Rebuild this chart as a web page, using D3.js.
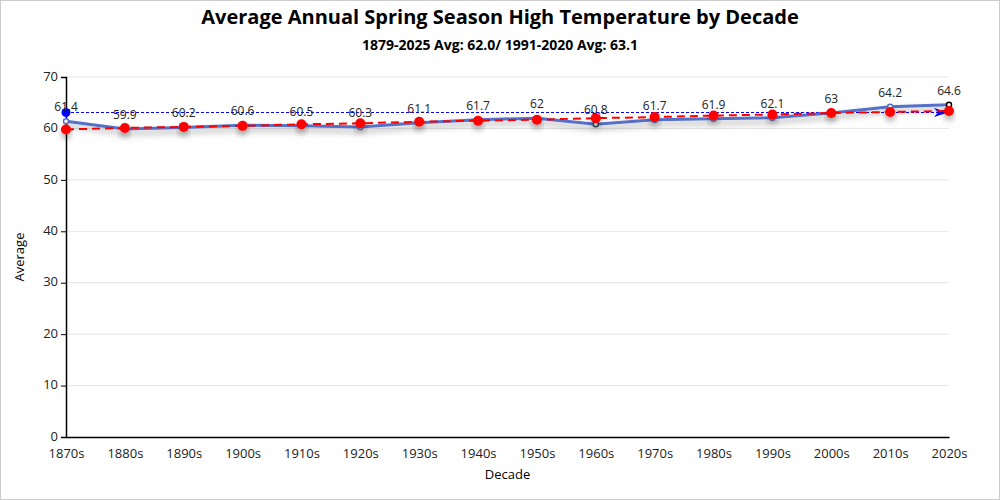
<!DOCTYPE html>
<html>
<head>
<meta charset="utf-8">
<script src="https://cdn.jsdelivr.net/npm/d3@7"></script>
<style>
  body { margin: 0; background: #fff; }
  svg { font-family: "Open Sans", "Noto Sans", sans-serif; }
</style>
</head>
<body>
<script>
const decades = ['1870s','1880s','1890s','1900s','1910s','1920s','1930s','1940s',
    '1950s','1960s','1970s','1980s','1990s','2000s','2010s','2020s']
const averages = [61.4, 59.9, 60.2, 60.6, 60.5, 60.3, 61.1, 61.7,
    62, 60.8, 61.7, 61.9, 62.1, 63, 64.2, 64.6]
const trend = [59.8, 60.1, 60.3, 60.5, 60.8, 61.0, 61.3, 61.5,
    61.7, 62.0, 62.2, 62.5, 62.7, 63.0, 63.2, 63.4]
const normal = 63.1
const yTicks = [0, 10, 20, 30, 40, 50, 60, 70]

const WIDTH = 1000
const HEIGHT = 500
const margin = { top: 77, bottom: 63, left: 66, right: 51 }

const svg = d3.select('body').append('svg')
    .attr('width', WIDTH)
    .attr('height', HEIGHT);

// drop shadow like the original
const defs = svg.append('defs')
const f = defs.append('filter').attr('id', 'shadow')
    .attr('x', '-20%').attr('y', '-50%').attr('width', '140%').attr('height', '300%')
f.append('feDropShadow').attr('dx', 0).attr('dy', 4).attr('stdDeviation', 3)
    .attr('flood-color', '#000').attr('flood-opacity', 0.35)

svg.append('rect')
    .attr('x', 0.5).attr('y', 0.5)
    .attr('width', WIDTH - 1).attr('height', HEIGHT - 1)
    .attr('fill', 'white').attr('stroke', '#ccc')

const x = d3.scalePoint()
    .domain(decades)
    .range([margin.left, WIDTH - margin.right])

const y = d3.scaleLinear()
    .domain([0, 70])
    .range([HEIGHT - margin.bottom, margin.top])

// grid
svg.append('g')
    .selectAll('line')
    .data(yTicks.filter(d => d > 0))
    .join('line')
        .attr('x1', margin.left).attr('x2', WIDTH - margin.right)
        .attr('y1', d => y(d)).attr('y2', d => y(d))
        .attr('stroke', '#e6e6e6')

// axes
const xAxis = svg.append('g')
    .attr('transform', `translate(0,${HEIGHT - margin.bottom})`)
    .call(d3.axisBottom(x).tickSize(0).tickPadding(12))
xAxis.select('.domain').attr('stroke', '#000').attr('stroke-width', 1.5)

const yAxis = svg.append('g')
    .attr('transform', `translate(${margin.left},0)`)
    .call(d3.axisLeft(y).tickValues(yTicks).tickSize(5).tickPadding(3))
yAxis.select('.domain').attr('stroke', '#000').attr('stroke-width', 1.5)

svg.selectAll('.tick text').attr('font-size', 13).attr('fill', '#222')
    .attr('font-family', '"Open Sans", sans-serif')
yAxis.selectAll('.tick text').attr('dy', '0.25em')

// 1991-2020 normal line
const xEnd = x(decades[decades.length - 1])
svg.append('line')
    .attr('x1', x(decades[0])).attr('x2', xEnd - 6)
    .attr('y1', y(normal)).attr('y2', y(normal))
    .attr('stroke', '#0000ff').attr('stroke-width', 1)
    .attr('stroke-dasharray', '3,2')
svg.append('path')
    .attr('d', 'M-14,-4.5 L0,0 L-14,4.5 L-10,0 Z')
    .attr('transform', `translate(${xEnd - 1},${y(normal)})`)
    .attr('fill', '#0000ff')
svg.append('circle')
    .attr('cx', x(decades[0])).attr('cy', y(normal)).attr('r', 4.5)
    .attr('fill', '#0000ff')

// average line
const line = d3.line()
    .x((d, i) => x(decades[i]))
    .y(d => y(d))

svg.append('path')
    .datum(averages)
    .attr('d', line)
    .attr('fill', 'none')
    .attr('stroke', '#5470c6')
    .attr('stroke-width', 3)
    .attr('filter', 'url(#shadow)')

const markerColor = { '1960s': '#2f4554', '2020s': '#000' }
svg.append('g')
    .selectAll('circle')
    .data(averages)
    .join('circle')
        .attr('cx', (d, i) => x(decades[i]))
        .attr('cy', d => y(d))
        .attr('r', 2.5)
        .attr('fill', '#fff')
        .attr('stroke', (d, i) => markerColor[decades[i]] || '#5470c6')
        .attr('stroke-width', 1.5)

// trend line
svg.append('path')
    .datum(trend)
    .attr('d', line)
    .attr('fill', 'none')
    .attr('stroke', '#ff0000')
    .attr('stroke-width', 2)
    .attr('stroke-dasharray', '8,5')

svg.append('g')
    .selectAll('circle')
    .data(trend)
    .join('circle')
        .attr('cx', (d, i) => x(decades[i]))
        .attr('cy', d => y(d))
        .attr('r', 5)
        .attr('fill', '#ff0000')
        .attr('filter', 'url(#shadow)')

// value labels
svg.append('g')
    .selectAll('text')
    .data(averages)
    .join('text')
        .attr('x', (d, i) => x(decades[i]))
        .attr('y', d => y(d) - 10)
        .attr('text-anchor', 'middle')
        .attr('font-size', 12)
        .attr('fill', '#222')
        .text(d => d)

// titles
svg.append('text')
    .attr('x', WIDTH / 2).attr('y', 24)
    .attr('text-anchor', 'middle')
    .attr('font-size', 20).attr('font-weight', 'bold')
    .text('Average Annual Spring Season High Temperature by Decade')

svg.append('text')
    .attr('x', WIDTH / 2).attr('y', 50)
    .attr('text-anchor', 'middle')
    .attr('font-size', 14).attr('font-weight', 'bold')
    .text('1879-2025 Avg: 62.0/ 1991-2020 Avg: 63.1')

svg.append('text')
    .attr('x', (margin.left + WIDTH - margin.right) / 2).attr('y', 479)
    .attr('text-anchor', 'middle')
    .attr('font-size', 13)
    .text('Decade')

svg.append('text')
    .attr('transform', `translate(24,${(margin.top + HEIGHT - margin.bottom) / 2}) rotate(-90)`)
    .attr('text-anchor', 'middle')
    .attr('font-size', 13)
    .text('Average')
</script>
</body>
</html>
